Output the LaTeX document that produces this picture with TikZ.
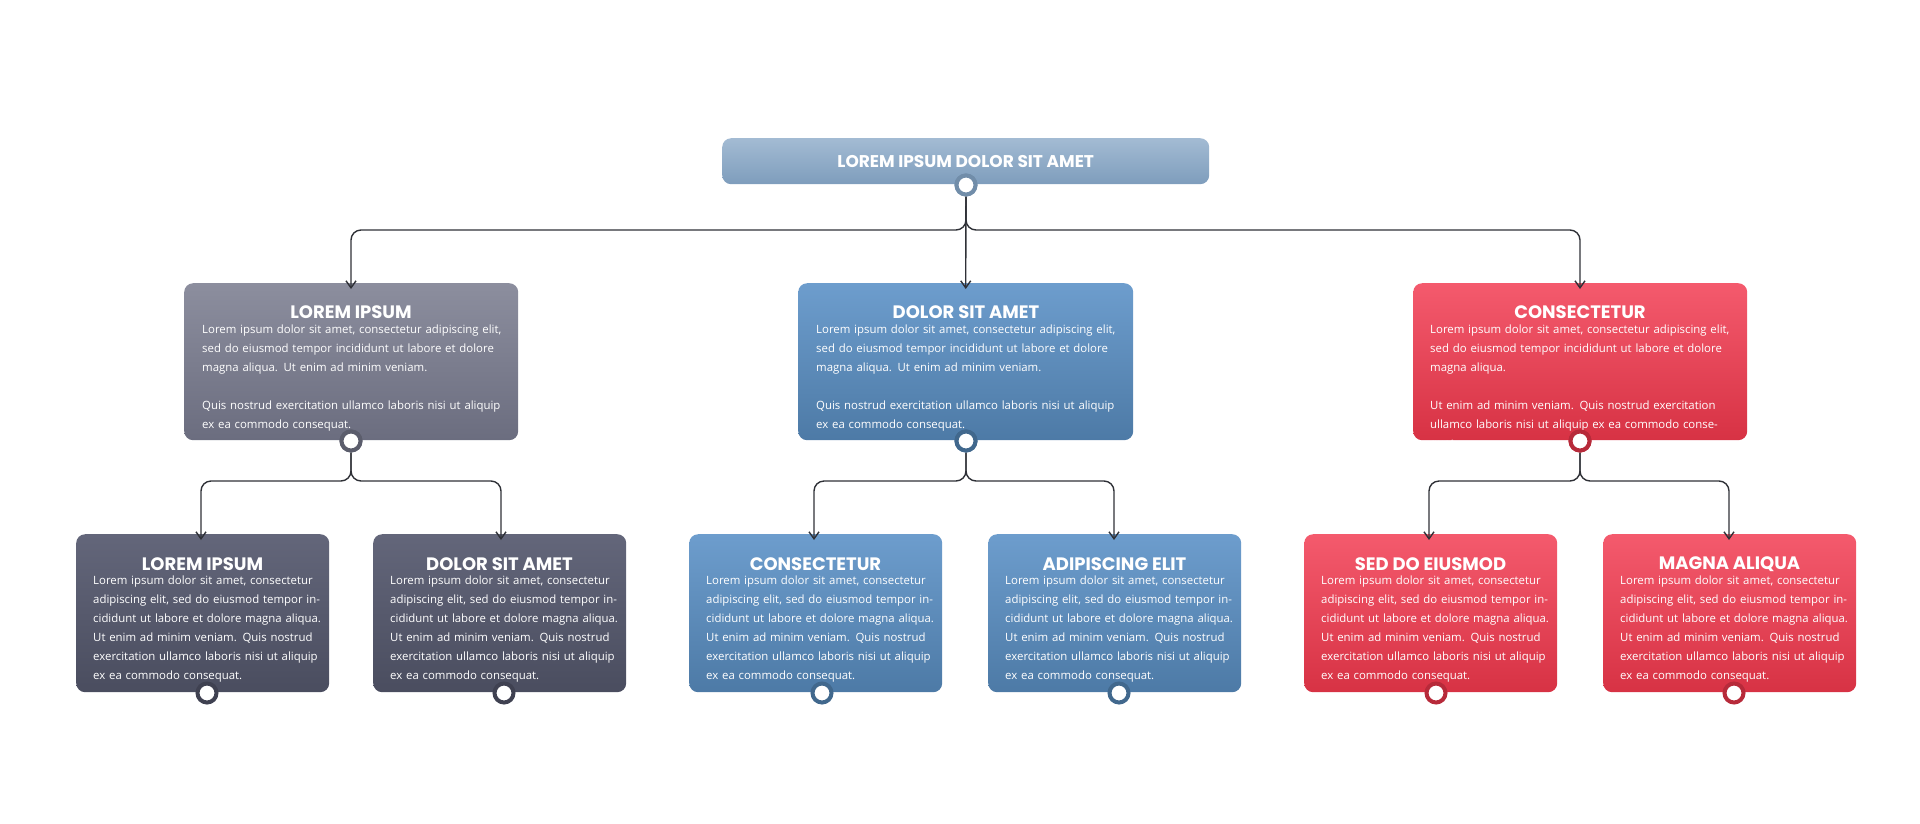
\documentclass[tikz,border=0pt]{standalone}
\usepackage{fontspec}
\setmainfont{Open Sans}
\newfontfamily\ttlfont{Poppins}
\usetikzlibrary{arrows.meta}
\definecolor{topA}{HTML}{A3BBD3}\definecolor{topB}{HTML}{7E9DBC}
\definecolor{gA}{HTML}{8C8E9E}\definecolor{gB}{HTML}{6B6D7F}
\definecolor{dA}{HTML}{63667A}\definecolor{dB}{HTML}{4A4D5F}
\definecolor{bA}{HTML}{6D9DCD}\definecolor{bB}{HTML}{4D7AA6}
\definecolor{rA}{HTML}{F45A6D}\definecolor{rB}{HTML}{D73244}
\definecolor{lc}{HTML}{2F3137}
\tikzset{
  x=1pt,y=-1pt,
  box/.style={rounded corners=9pt, anchor=north west, inner sep=0pt},
  ttl/.style={text=white, font=\ttlfont\fontsize{18}{20}\selectfont\bfseries, anchor=center},
  bodymid/.style={text=white, font=\fontsize{11.4}{19}\selectfont, anchor=north west, text width=300pt, align=left, inner sep=0pt},
  bodysm/.style={text=white, font=\fontsize{11.4}{19}\selectfont, anchor=north west, text width=228pt, align=left, inner sep=0pt},
  dot/.style={circle, fill=white, line width=4pt, minimum size=19pt, inner sep=0pt},
  conn/.style={draw=lc, line width=1.4pt, rounded corners=10pt, -{Straight Barb[length=7pt,width=10pt,line width=1.4pt]}},
}
\begin{document}
\begin{tikzpicture}
\useasboundingbox (0,0) rectangle (1920,823);
% top
\node[box, minimum width=487pt, minimum height=46pt, top color=topA, bottom color=topB] (top) at (722,138) {};
\node[ttl, font=\ttlfont\fontsize{17}{20}\selectfont\bfseries] (toptxt) at (top.center) {LOREM IPSUM DOLOR SIT AMET};
% mid boxes
\node[box, minimum width=334pt, minimum height=157pt, top color=gA, bottom color=gB] (m1) at (184,283) {};
\node[box, minimum width=335pt, minimum height=157pt, top color=bA, bottom color=bB] (m2) at (798,283) {};
\node[box, minimum width=334pt, minimum height=157pt, top color=rA, bottom color=rB] (m3) at (1413,283) {};
\node[ttl] (m1t) at (351,312) {LOREM IPSUM};
\node[ttl] (m2t) at (966,312) {DOLOR SIT AMET};
\node[ttl] (m3t) at (1580,312) {CONSECTETUR};
\node[bodymid] (m1b) at (202,325) {Lorem ipsum dolor sit amet, consectetur adipiscing elit, sed do eiusmod tempor incididunt ut labore et dolore magna aliqua. Ut enim ad minim veniam.\\[19pt]Quis nostrud exercitation ullamco laboris nisi ut aliquip ex ea commodo consequat.};
\node[bodymid] (m2b) at (816,325) {Lorem ipsum dolor sit amet, consectetur adipiscing elit, sed do eiusmod tempor incididunt ut labore et dolore magna aliqua. Ut enim ad minim veniam.\\[19pt]Quis nostrud exercitation ullamco laboris nisi ut aliquip ex ea commodo consequat.};
\node[bodymid] (m3b) at (1430,325) {Lorem ipsum dolor sit amet, consectetur adipiscing elit, sed do eiusmod tempor incididunt ut labore et dolore magna aliqua.\\[19pt]Ut enim ad minim veniam. Quis nostrud exercitation ullamco laboris nisi ut aliquip ex ea commodo consequat.};
% bottom boxes
\foreach \n/\x/\c/\t in {b1/76/d/LOREM IPSUM, b2/373/d/DOLOR SIT AMET, b3/689/b/CONSECTETUR, b4/988/b/ADIPISCING ELIT, b5/1304/r/SED DO EIUSMOD, b6/1603/r/MAGNA ALIQUA}{
  \node[box, minimum width=253pt, minimum height=158pt, top color=\c A, bottom color=\c B] (\n) at (\x,534) {};
  \node[ttl] (\n t) at (\x+126.5,564) {\t};
  \node[bodysm] (\n b) at (\x+17,576) {Lorem ipsum dolor sit amet, consectetur adipiscing elit, sed do eiusmod tempor incididunt ut labore et dolore magna aliqua. Ut enim ad minim veniam. Quis nostrud exercitation ullamco laboris nisi ut aliquip ex ea commodo consequat.};
}
% connector coordinates
\coordinate (h0) at (966,230);
\coordinate (h1) at (351,481);
\coordinate (h2) at (966,481);
\coordinate (h3) at (1580,481);
\node[dot, draw=topB!90!black] (c0) at (966,185) {};
\node[dot, draw=gB!85!black] (c1) at (351,441) {};
\node[dot, draw=bB!85!black] (c2) at (966,441) {};
\node[dot, draw=rB!85!black] (c3) at (1580,441) {};
\begin{scope}[on background layer/.try]
\draw[conn] (c0) -- (h0) -| ([yshift=-6pt]m1.north-|c1);
\draw[conn] (c0) -- ([yshift=-6pt]m2.north);
\draw[conn] (c0) -- (h0) -| ([yshift=-6pt]m3.north-|c3);
\draw[conn] (c1) -- (h1) -| ([yshift=-6pt]b1.north-|201,0);
\draw[conn] (c1) -- (h1) -| ([yshift=-6pt]b2.north-|501,0);
\draw[conn] (c2) -- (h2) -| ([yshift=-6pt]b3.north-|814,0);
\draw[conn] (c2) -- (h2) -| ([yshift=-6pt]b4.north-|1114,0);
\draw[conn] (c3) -- (h3) -| ([yshift=-6pt]b5.north-|1429,0);
\draw[conn] (c3) -- (h3) -| ([yshift=-6pt]b6.north-|1729,0);
\end{scope}
\node[dot, draw=topB!90!black] (c0) at (966,185) {};
\node[dot, draw=gB!85!black] (c1) at (351,441) {};
\node[dot, draw=bB!85!black] (c2) at (966,441) {};
\node[dot, draw=rB!85!black] (c3) at (1580,441) {};
\node[dot, draw=dB!85!black] (d1) at (207,693) {};
\node[dot, draw=dB!85!black] (d2) at (504,693) {};
\node[dot, draw=bB!85!black] (d3) at (822,693) {};
\node[dot, draw=bB!85!black] (d4) at (1119,693) {};
\node[dot, draw=rB!85!black] (d5) at (1436,693) {};
\node[dot, draw=rB!85!black] (d6) at (1734,693) {};
\end{tikzpicture}
\end{document}
